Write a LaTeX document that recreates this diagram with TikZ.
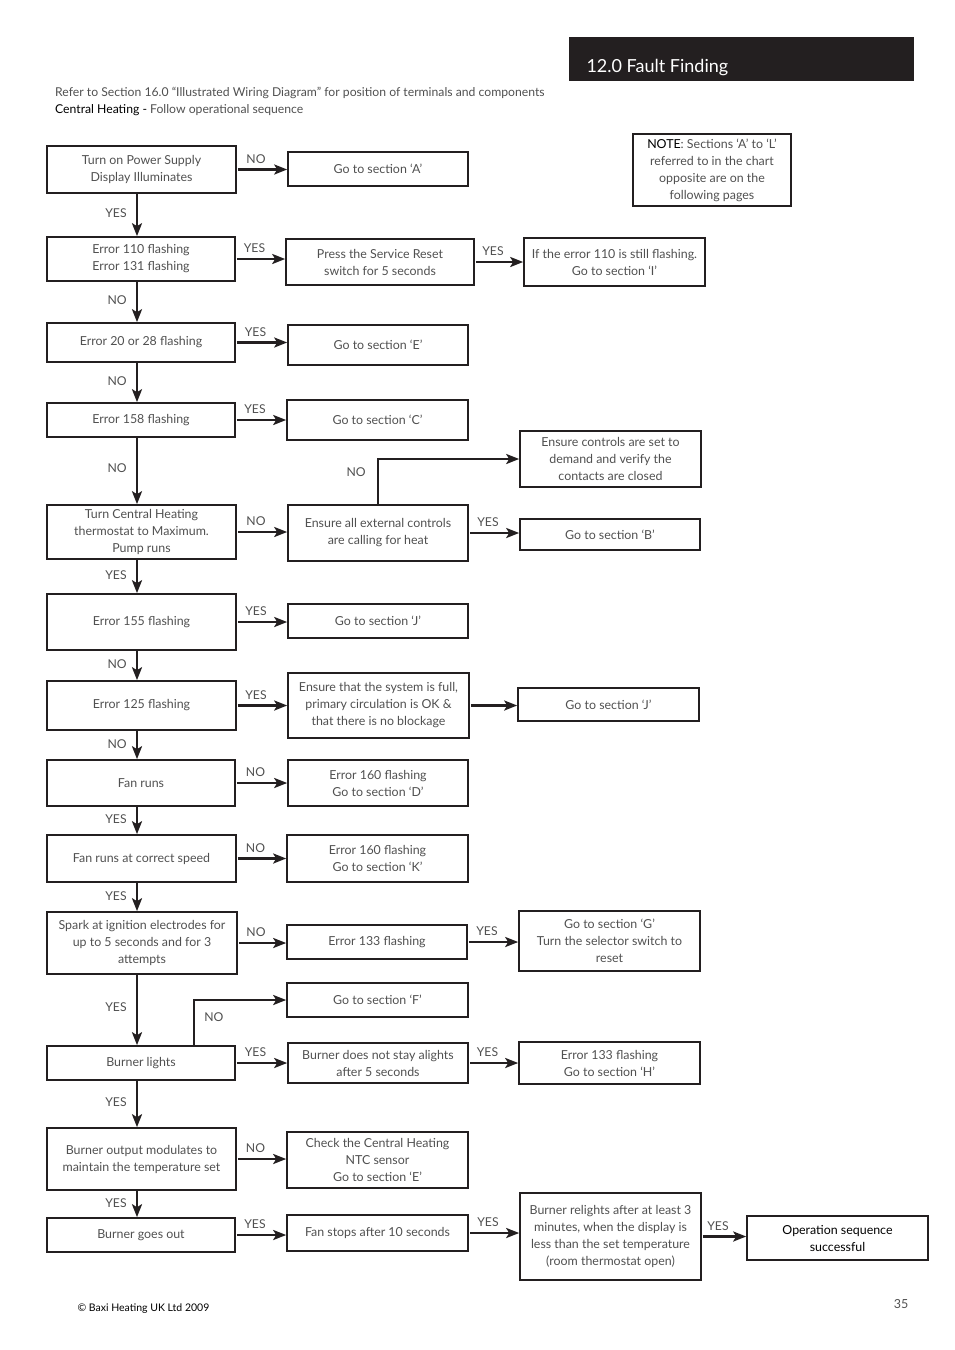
\documentclass[tikz,border=0pt]{standalone}
\usepackage{fontspec}
\setmainfont{Lato}
\usetikzlibrary{arrows.meta}

\definecolor{txt}{HTML}{505050}
\definecolor{ln}{HTML}{231F20}

\tikzset{
  box/.style={draw=ln, line width=1.6pt, align=center, inner sep=1pt, text=txt,
    font=\fontsize{12.4}{17}\selectfont},
  sz/.style 2 args={minimum width=#1, minimum height=#2},
  flow/.style={draw=ln, line width=2.7pt, -{Stealth[length=13pt,width=10pt,inset=3pt]}},
  lab/.style={text=txt, font=\fontsize{12.2}{14}\selectfont, inner sep=1pt},
}

\begin{document}
\begin{tikzpicture}[x=1pt,y=-1pt]
\useasboundingbox (0,0) rectangle (954,1350);

% header
\fill[ln] (569,37) rectangle (914,81);
\node[anchor=west, text=white, font=\fontsize{18}{21}\selectfont] (title) at (583,68) {12.0 Fault Finding};
\node[lab, anchor=west] (refer) at (54,93) {Refer to Section 16.0 “Illustrated Wiring Diagram” for position of terminals and components};
\node[lab, anchor=west] (chead) at (54,110) {\textcolor{black}{Central Heating -} Follow operational sequence};

% main column
\node[box, sz={189pt}{47pt}] (power) at (141.5,169.5) {Turn on Power Supply\\Display Illuminates};
\node[box, sz={188pt}{44pt}] (err110) at (141,259) {Error 110 flashing\\Error 131 flashing};
\node[box, sz={188pt}{39pt}] (err20) at (141,342.5) {Error 20 or 28 flashing};
\node[box, sz={188pt}{34pt}] (err158) at (141,420) {Error 158 flashing};
\node[box, sz={189pt}{54pt}] (thermo) at (141.5,532) {Turn Central Heating\\thermostat to Maximum.\\Pump runs};
\node[box, sz={189pt}{56pt}] (err155) at (141.5,622) {Error 155 flashing};
\node[box, sz={189pt}{49pt}] (err125) at (141.5,705.5) {Error 125 flashing};
\node[box, sz={188pt}{46pt}] (fan) at (141,783) {Fan runs};
\node[box, sz={189pt}{47pt}] (fanspeed) at (141.5,858.5) {Fan runs at correct speed};
\node[box, sz={190pt}{62pt}] (spark) at (142,943) {Spark at ignition electrodes for\\up to 5 seconds and for 3\\attempts};
\node[box, sz={188pt}{34pt}] (lights) at (141,1063) {Burner lights};
\node[box, sz={189pt}{62pt}] (modul) at (141.5,1159) {Burner output modulates to\\maintain the temperature set};
\node[box, sz={188pt}{34pt}] (goesout) at (141,1235) {Burner goes out};

% second column
\node[box, sz={180pt}{34pt}] (goA) at (378,169) {Go to section ‘A’};
\node[box, sz={188pt}{46pt}] (press) at (380,262) {Press the Service Reset\\switch for 5 seconds};
\node[box, sz={180pt}{40pt}] (goE) at (378,345) {Go to section ‘E’};
\node[box, sz={181pt}{40pt}] (goC) at (377.5,420) {Go to section ‘C’};
\node[box, sz={180pt}{56pt}] (extc) at (378,533) {Ensure all external controls\\are calling for heat};
\node[box, sz={180pt}{34pt}] (goJ) at (378,621) {Go to section ‘J’};
\node[box, sz={181pt}{65pt}] (full) at (378.5,705.5) {Ensure that the system is full,\\primary circulation is OK \&\\that there is no blockage};
\node[box, sz={180pt}{46pt}] (errD) at (378,783) {Error 160 flashing\\Go to section ‘D’};
\node[box, sz={181pt}{47pt}] (errK) at (377.5,858.5) {Error 160 flashing\\Go to section ‘K’};
\node[box, sz={180pt}{34pt}] (err133) at (377,942) {Error 133 flashing};
\node[box, sz={181pt}{34pt}] (goF) at (377.5,1000) {Go to section ‘F’};
\node[box, sz={180pt}{40pt}] (notstay) at (378,1063) {Burner does not stay alights\\after 5 seconds};
\node[box, sz={181pt}{56pt}] (ntc) at (377.5,1160) {Check the Central Heating\\NTC sensor\\Go to section ‘E’};
\node[box, sz={181pt}{36pt}] (fanstop) at (377.5,1233) {Fan stops after 10 seconds};

% third column
\node[box, sz={158pt}{72pt}] (note) at (712,170) {\textcolor{black}{NOTE}: Sections ‘A’ to ‘L’\\referred to in the chart\\opposite are on the\\following pages};
\node[box, sz={181pt}{48pt}] (still) at (614.5,262) {If the error 110 is still flashing.\\Go to section ‘I’};
\node[box, sz={181pt}{56pt}] (ctrls) at (610.5,459) {Ensure controls are set to\\demand and verify the\\contacts are closed};
\node[box, sz={180pt}{31pt}] (goB) at (610,534.5) {Go to section ‘B’};
\node[box, sz={181pt}{33pt}] (goJb) at (608.5,704.5) {Go to section ‘J’};
\node[box, sz={181pt}{60pt}] (goG) at (609.5,941) {Go to section ‘G’\\Turn the selector switch to\\reset};
\node[box, sz={181pt}{42pt}] (errH) at (609.5,1063) {Error 133 flashing\\Go to section ‘H’};
\node[box, sz={181pt}{87pt}] (relight) at (610.5,1236.5) {Burner relights after at least 3\\minutes, when the display is\\less than the set temperature\\(room thermostat open)};
\node[box, sz={181pt}{44pt}, text=black] (success) at (837.5,1238) {Operation sequence\\successful};

% footer
\node[anchor=west, font=\fontsize{10.5}{12}\selectfont] (copy) at (74,1309) {© Baxi Heating UK Ltd 2009};
\node[lab, font=\fontsize{12.5}{14}\selectfont] (page) at (901,1304) {35};

% connectors
\coordinate (axis) at (137,0);
\coordinate (tap) at (194,0);
\foreach \a/\b/\t in {power/err110/YES, err110/err20/NO, err20/err158/NO, err158/thermo/NO,
    thermo/err155/YES, err155/err125/NO, err125/fan/NO, fan/fanspeed/YES, fanspeed/spark/YES,
    spark/lights/YES, lights/modul/YES, modul/goesout/YES}
  \draw[flow] (\a.south -| axis) -- node[lab, left=8pt, pos=0.46] {\t} (\b.north -| axis);

\foreach \a/\b/\t in {power/goA/NO, err110/press/YES, press/still/YES, err20/goE/YES,
    err158/goC/YES, thermo/extc/NO, extc/goB/YES, err155/goJ/YES, err125/full/YES, full/goJb/,
    fan/errD/NO, fanspeed/errK/NO, spark/err133/NO, err133/goG/YES, lights/notstay/YES,
    notstay/errH/YES, modul/ntc/NO, goesout/fanstop/YES, fanstop/relight/YES, relight/success/YES}
  \draw[flow, shorten <=1pt] (\a.east) -- node[lab, above=4pt, xshift=-6pt] {\t} (\a.east -| \b.west);

\draw[flow] (extc.north) |- node[lab, pos=0.35, left=10pt] {NO} (ctrls.west);
\draw[flow] (lights.north -| tap) |- node[lab, pos=0.31, right=8pt] {NO} (goF.west);
\end{tikzpicture}
\end{document}
